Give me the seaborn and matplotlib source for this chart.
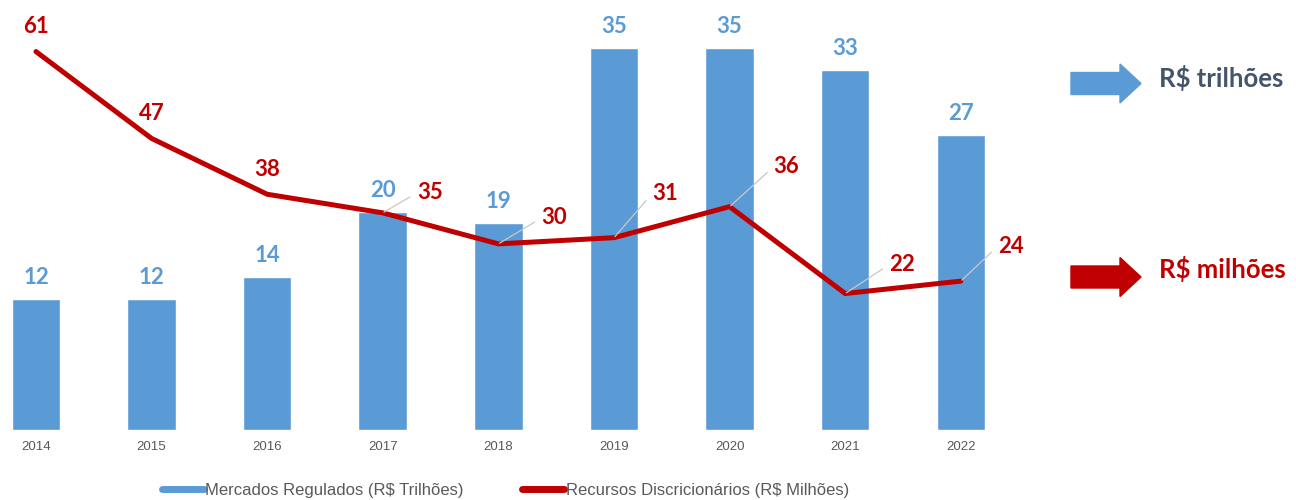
import numpy as np
import pandas as pd
import seaborn as sns
import matplotlib.pyplot as plt
import matplotlib.patches as mpatches
from matplotlib.lines import Line2D

anos = ['2014', '2015', '2016', '2017', '2018', '2019', '2020', '2021', '2022']
mercados = [12, 12, 14, 20, 19, 35, 35, 33, 27]
recursos = [61, 47, 38, 35, 30, 31, 36, 22, 24]

# label offsets (pixels, right/up) for the red series; None = plain label above the point
red_offsets = [None, None, None, (47, 20), (56, 26), (51, 44), (57, 40), (57, 29), (50, 35)]

AZUL = '#5B9BD5'
VERMELHO = '#C00000'
CINZA = '#595959'

sns.set_theme(style='white')
plt.rcParams['font.family'] = ['Lato', 'DejaVu Sans']

fig = plt.figure(figsize=(12.96, 5), dpi=100)
ax = fig.add_axes([0, 0.14, 1040 / 1296, 0.84])

df = pd.DataFrame({'Ano': anos, 'Mercados': mercados, 'Recursos': recursos})
sns.barplot(data=df, x='Ano', y='Mercados', color=AZUL, saturation=1, width=0.42, ax=ax)
ax.set_xlim(-0.311, 8.685)
ax.set_ylim(0, 38.5)

ax2 = ax.twinx()
sns.lineplot(x=np.arange(len(anos)), y=df['Recursos'], color=VERMELHO, lw=3.6, ax=ax2)
ax2.set_ylim(0, 67.7)

for i, v in enumerate(mercados):
    ax.annotate(str(v), (i, v), xytext=(0, 11), textcoords='offset pixels',
                ha='center', va='bottom', color=AZUL, fontsize=16, fontweight='bold')

for i, v in enumerate(recursos):
    off = red_offsets[i]
    if off is None:
        ax2.annotate(str(v), (i, v), xytext=(0, 25), textcoords='offset pixels',
                     ha='center', va='center', color=VERMELHO, fontsize=16, fontweight='bold')
    else:
        ax2.annotate(str(v), (i, v), xytext=off, textcoords='offset pixels',
                     ha='center', va='center', color=VERMELHO, fontsize=16, fontweight='bold',
                     arrowprops=dict(arrowstyle='-', color='#C8C8C8', lw=0.9,
                                     shrinkA=3, shrinkB=1, relpos=(0, 0.5)))

for a in (ax, ax2):
    for s in a.spines.values():
        s.set_visible(False)
    a.set_yticks([])
    a.set_ylabel('')
ax.set_xlabel('')
ax.set_xticks(range(len(anos)))
ax.set_xticklabels(anos, fontsize=9.5, color=CINZA, family='Liberation Sans')
ax.tick_params(axis='x', length=0, pad=8)

handles = [Line2D([0], [0], color=AZUL, lw=5), Line2D([0], [0], color=VERMELHO, lw=5)]
fig.legend(handles, ['Mercados Regulados (R$ Trilhões)', 'Recursos Discricionários (R$ Milhões)'],
           loc='center', bbox_to_anchor=(0.39, 0.02), ncol=2, frameon=False,
           prop={'family': 'Liberation Sans', 'size': 12}, labelcolor=CINZA,
           handlelength=2.5, handletextpad=0.1, columnspacing=3.5)

# unit arrows on the right
for y, cor in ((0.833, AZUL), (0.446, VERMELHO)):
    fig.patches.append(mpatches.FancyArrow(1071 / 1296, y, 49 / 1296, 0, width=0.044,
                                           head_width=0.078, head_length=21 / 1296,
                                           length_includes_head=False, color=cor,
                                           transform=fig.transFigure, figure=fig))
fig.text(1159 / 1296, 0.844, 'R$ trilhões', color='#44546A', fontsize=18.5, fontweight='bold',
         ha='left', va='center')
fig.text(1159 / 1296, 0.462, 'R$ milhões', color=VERMELHO, fontsize=18.5, fontweight='bold',
         ha='left', va='center')

fig.savefig('out.png', dpi=100)
